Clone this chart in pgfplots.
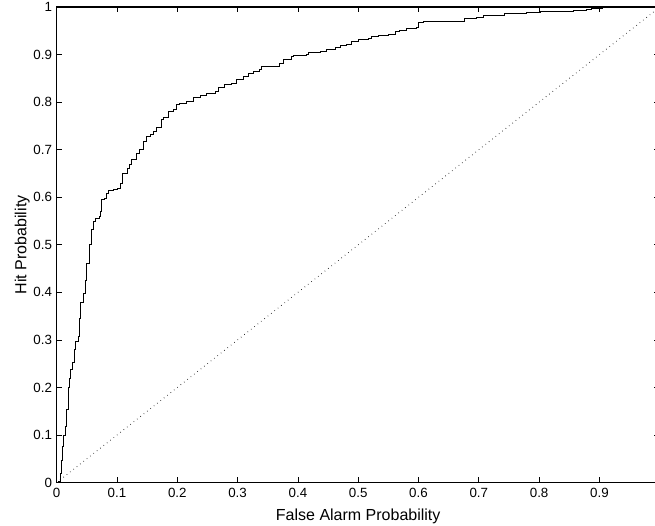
\documentclass[border=0pt]{standalone}
\usepackage{fontspec}
\setmainfont{Liberation Sans}
\usepackage{pgfplots}
\pgfplotsset{compat=1.18}
\begin{document}
\begin{tikzpicture}
\begin{axis}[
  at={(0,0)}, anchor=south west,
  scale only axis,
  width=452.25pt, height=356.6pt,
  xmin=0, xmax=1, ymin=0, ymax=1,
  xtick={0,0.1,0.2,0.3,0.4,0.5,0.6,0.7,0.8,0.9},
  ytick={0,0.1,0.2,0.3,0.4,0.5,0.6,0.7,0.8,0.9,1},
  tick align=inside,
  major tick length=4pt,
  axis line style={line width=1pt},
  every tick/.style={black, line width=0.6pt},
  /pgf/number format/assume math mode=true,
  /pgf/number format/fixed,
  ticklabel style={font=\fontsize{10}{12}\selectfont},
  xticklabel style={yshift=-1pt},
  xlabel={False Alarm Probability},
  ylabel={Hit Probability},
  label style={font=\fontsize{12}{14}\selectfont},
  xlabel style={yshift=-1.5pt},
  ylabel style={yshift=-4pt},
]
\addplot[black, line width=0.6pt, dash pattern=on 0.4pt off 2.8pt] coordinates {(0,0) (1,1)};
\addplot[const plot, black, line width=0.7pt] coordinates {
(0,0) (0.003,0.002) (0.0055,0.019) (0.008,0.047) (0.010,0.075) (0.012,0.10)
(0.014,0.117) (0.0166,0.153) (0.019,0.20) (0.021,0.22) (0.023,0.237)
(0.0265,0.252) (0.0287,0.279) (0.031,0.296) (0.036,0.307) (0.0375,0.345)
(0.040,0.378) (0.044,0.398) (0.047,0.426) (0.050,0.461) (0.054,0.475)
(0.055,0.50) (0.057,0.532) (0.061,0.549) (0.065,0.556) (0.0707,0.56)
(0.073,0.570) (0.0746,0.595) (0.080,0.597) (0.083,0.609) (0.0856,0.614)
(0.094,0.617) (0.1005,0.619) (0.105,0.63) (0.109,0.651) (0.117,0.661)
(0.1215,0.668) (0.124,0.679) (0.1327,0.693) (0.138,0.70) (0.144,0.717)
(0.149,0.728) (0.155,0.732) (0.160,0.739) (0.166,0.746) (0.174,0.763)
(0.177,0.767) (0.185,0.781) (0.193,0.784) (0.199,0.795) (0.204,0.798)
(0.2156,0.802) (0.2265,0.809) (0.238,0.815) (0.249,0.819) (0.2625,0.823)
(0.268,0.830) (0.279,0.837) (0.290,0.840) (0.2985,0.847) (0.309,0.854)
(0.318,0.861) (0.326,0.865) (0.337,0.868) (0.340,0.875) (0.365,0.875)
(0.370,0.882) (0.376,0.889) (0.390,0.896) (0.392,0.8985) (0.4146,0.901)
(0.417,0.9035) (0.4367,0.907) (0.448,0.9105) (0.4615,0.914) (0.470,0.919)
(0.481,0.921) (0.489,0.928) (0.500,0.9316) (0.517,0.935) (0.522,0.9385)
(0.533,0.9406) (0.55,0.942) (0.561,0.948) (0.569,0.951) (0.580,0.955)
(0.597,0.9575) (0.600,0.967) (0.608,0.969) (0.622,0.970) (0.652,0.970)
(0.677,0.975) (0.696,0.979) (0.7075,0.982) (0.743,0.986) (0.779,0.988)
(0.8015,0.990) (0.8236,0.9912) (0.857,0.993) (0.879,0.995) (0.887,0.998)
(0.905,1.0) (1.0,1.0)
};
\end{axis}
\pgfresetboundingbox
\useasboundingbox (-42.5pt,-31.9pt) rectangle (448.7pt,361.9pt);
\end{tikzpicture}
\end{document}
